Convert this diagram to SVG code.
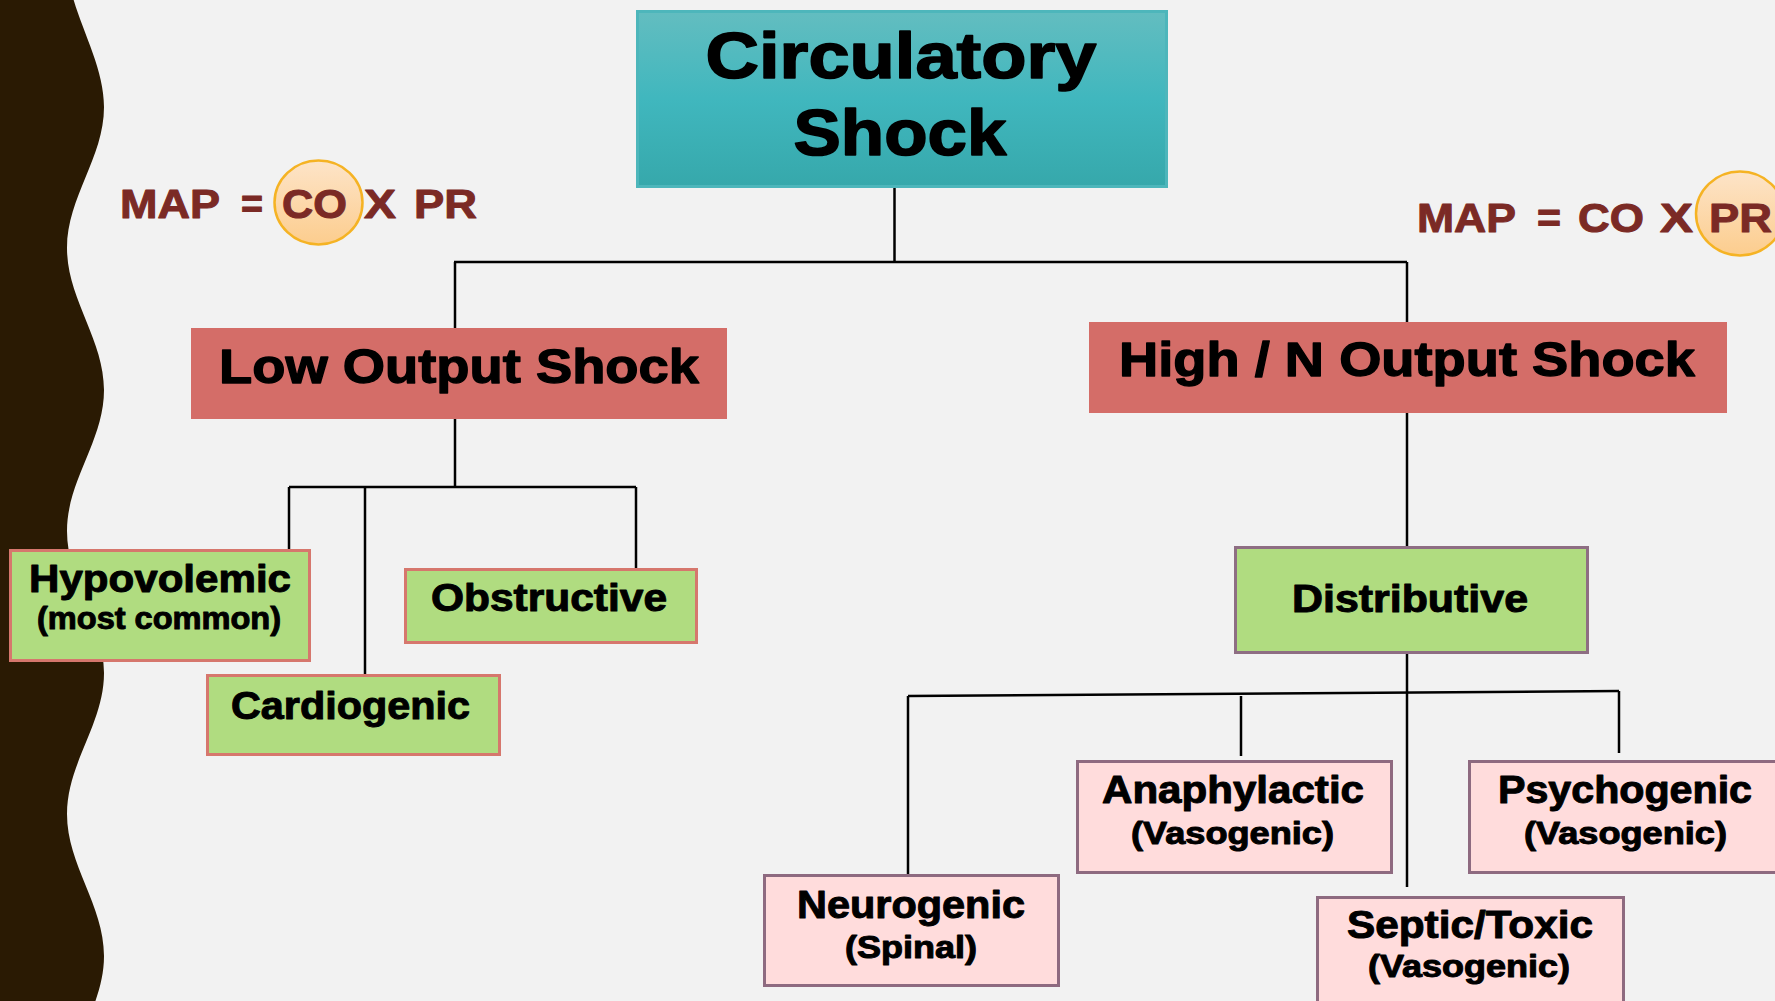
<svg xmlns="http://www.w3.org/2000/svg" width="1775" height="1001" viewBox="0 0 1775 1001">
<defs>
<linearGradient id="gTeal" x1="0" y1="0" x2="0" y2="1">
<stop offset="0" stop-color="#63BDC0"/>
<stop offset="0.5" stop-color="#40B7BE"/>
<stop offset="1" stop-color="#36A8AB"/>
</linearGradient>
<linearGradient id="gPeach" x1="0" y1="0" x2="0" y2="1">
<stop offset="0" stop-color="#FDE4C8"/>
<stop offset="1" stop-color="#FCCD8E"/>
</linearGradient>
<style>
text{font-family:"Liberation Sans",Arial,sans-serif;font-weight:bold;fill:#000;stroke:#000;stroke-width:1;stroke-linejoin:round;}
.t1{font-size:65px;stroke-width:1.6;}
.t2{font-size:49px;stroke-width:1.3;}
.t3{font-size:38px;}
.t4{font-size:31px;}
.map{font-size:41px;fill:#7B2A25;stroke:#7B2A25;}
.red{fill:#D46D68;}
.grnA{fill:#B0DC80;stroke:#D6776D;stroke-width:3;}
.grnB{fill:#B0DC80;stroke:#8E6E83;stroke-width:3;}
.pink{fill:#FFDCDC;stroke:#8E6A80;stroke-width:3;}
.conn{stroke:#000;stroke-width:2.5;fill:none;}
.circ{fill:url(#gPeach);stroke:#F5B324;stroke-width:2.5;}
</style>
</defs>
<rect width="1775" height="1001" fill="#F2F2F2"/>
<path id="wave" fill="#2A1A03" d="M0,-40 L67,-40 C67,10 104,57 104,107 C104,158 67,197 67,248 C67,299 104,339 104,390 C104,441 67,480 67,531 C67,582 104,622 104,673 C104,724 67,763 67,814 C67,865 104,905 104,956 C104,1007 67,1046 67,1097 L0,1097 Z"/>

<g id="connectors" class="conn">
<line x1="894.5" y1="187" x2="894.5" y2="262"/>
<line x1="454" y1="262" x2="1407" y2="262"/>
<line x1="455" y1="262" x2="455" y2="328"/>
<line x1="1407" y1="262" x2="1407" y2="322"/>
<line x1="455" y1="419" x2="455" y2="487"/>
<line x1="289" y1="487" x2="636" y2="487"/>
<line x1="289" y1="487" x2="289" y2="550"/>
<line x1="365" y1="487" x2="365" y2="675"/>
<line x1="636" y1="487" x2="636" y2="568"/>
<line x1="1407" y1="412" x2="1407" y2="547"/>
<line x1="1407" y1="653" x2="1407" y2="887"/>
<line x1="908" y1="696" x2="1619" y2="691"/>
<line x1="908" y1="696" x2="908" y2="875"/>
<line x1="1241" y1="696" x2="1241" y2="756"/>
<line x1="1619" y1="691" x2="1619" y2="753"/>
</g>

<g id="map-left">
<ellipse class="circ" cx="318.5" cy="202.5" rx="44" ry="42"/>
<text class="map" x="120" y="218" textLength="100" lengthAdjust="spacingAndGlyphs">MAP</text>
<text class="map" x="241" y="218" textLength="22" lengthAdjust="spacingAndGlyphs">=</text>
<text class="map" x="282" y="218" textLength="65" lengthAdjust="spacingAndGlyphs">CO</text>
<text class="map" x="364" y="218" textLength="32" lengthAdjust="spacingAndGlyphs">X</text>
<text class="map" x="414" y="218" textLength="63" lengthAdjust="spacingAndGlyphs">PR</text>
</g>

<g id="map-right">
<ellipse class="circ" cx="1740" cy="213.5" rx="44" ry="42"/>
<text class="map" x="1417" y="232" textLength="99" lengthAdjust="spacingAndGlyphs">MAP</text>
<text class="map" x="1537" y="232" textLength="24" lengthAdjust="spacingAndGlyphs">=</text>
<text class="map" x="1578" y="232" textLength="66" lengthAdjust="spacingAndGlyphs">CO</text>
<text class="map" x="1660" y="232" textLength="33" lengthAdjust="spacingAndGlyphs">X</text>
<text class="map" x="1709" y="232" textLength="63" lengthAdjust="spacingAndGlyphs">PR</text>
</g>

<g id="circulatory-shock">
<rect x="637.5" y="11.5" width="529" height="175" fill="url(#gTeal)" stroke="#4DB6BB" stroke-width="3"/>
<text class="t1" x="901" y="78" text-anchor="middle" textLength="391" lengthAdjust="spacingAndGlyphs">Circulatory</text>
<text class="t1" x="900" y="155" text-anchor="middle" textLength="213" lengthAdjust="spacingAndGlyphs">Shock</text>
</g>

<g id="low-output-shock">
<rect class="red" x="191" y="328" width="536" height="91"/>
<text class="t2" x="459" y="383" text-anchor="middle" textLength="480" lengthAdjust="spacingAndGlyphs">Low Output Shock</text>
</g>

<g id="high-output-shock">
<rect class="red" x="1089" y="322" width="638" height="91"/>
<text class="t2" x="1407" y="376" text-anchor="middle" textLength="576" lengthAdjust="spacingAndGlyphs">High / N Output Shock</text>
</g>

<g id="hypovolemic">
<rect class="grnA" x="10.5" y="550.5" width="299" height="110"/>
<text class="t3" x="160" y="592" text-anchor="middle" textLength="262" lengthAdjust="spacingAndGlyphs">Hypovolemic</text>
<text class="t4" x="159" y="629" text-anchor="middle" textLength="244" lengthAdjust="spacingAndGlyphs">(most common)</text>
</g>

<g id="obstructive">
<rect class="grnA" x="405.5" y="569.5" width="291" height="73"/>
<text class="t3" x="549" y="611" text-anchor="middle" textLength="236" lengthAdjust="spacingAndGlyphs">Obstructive</text>
</g>

<g id="cardiogenic">
<rect class="grnA" x="207.5" y="675.5" width="292" height="79"/>
<text class="t3" x="350.5" y="719" text-anchor="middle" textLength="239" lengthAdjust="spacingAndGlyphs">Cardiogenic</text>
</g>

<g id="distributive">
<rect class="grnB" x="1235.5" y="547.5" width="352" height="105"/>
<text class="t3" x="1410" y="612" text-anchor="middle" textLength="236" lengthAdjust="spacingAndGlyphs">Distributive</text>
</g>

<g id="anaphylactic">
<rect class="pink" x="1077.5" y="761.5" width="314" height="111"/>
<text class="t3" x="1233" y="803" text-anchor="middle" textLength="262" lengthAdjust="spacingAndGlyphs">Anaphylactic</text>
<text class="t4" x="1232.5" y="844" text-anchor="middle" textLength="203" lengthAdjust="spacingAndGlyphs">(Vasogenic)</text>
</g>

<g id="psychogenic">
<rect class="pink" x="1469.5" y="761.5" width="320" height="111"/>
<text class="t3" x="1625" y="803" text-anchor="middle" textLength="254" lengthAdjust="spacingAndGlyphs">Psychogenic</text>
<text class="t4" x="1625.5" y="844" text-anchor="middle" textLength="203" lengthAdjust="spacingAndGlyphs">(Vasogenic)</text>
</g>

<g id="neurogenic">
<rect class="pink" x="764.5" y="875.5" width="294" height="110"/>
<text class="t3" x="911" y="918" text-anchor="middle" textLength="228" lengthAdjust="spacingAndGlyphs">Neurogenic</text>
<text class="t4" x="911" y="958" text-anchor="middle" textLength="132" lengthAdjust="spacingAndGlyphs">(Spinal)</text>
</g>

<g id="septic-toxic">
<rect class="pink" x="1317.5" y="897.5" width="306" height="120"/>
<text class="t3" x="1470" y="938" text-anchor="middle" textLength="246" lengthAdjust="spacingAndGlyphs">Septic/Toxic</text>
<text class="t4" x="1469" y="977" text-anchor="middle" textLength="202" lengthAdjust="spacingAndGlyphs">(Vasogenic)</text>
</g>
</svg>
